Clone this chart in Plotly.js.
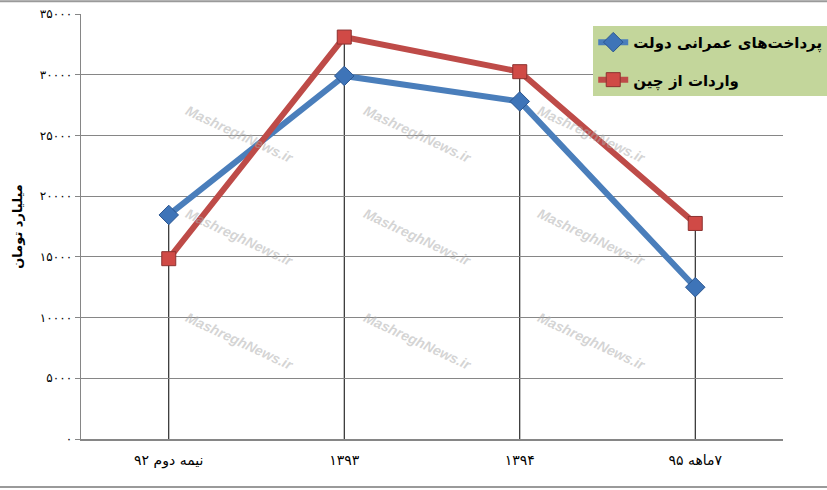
<!DOCTYPE html>
<html>
<head>
<meta charset="utf-8">
<script src="https://cdn.plot.ly/plotly-3.0.1.min.js"></script>
<style>
  html, body { margin: 0; padding: 0; background: #ffffff; }
  #chart { width: 827px; height: 490px; }
</style>
</head>
<body>
<div id="chart"></div>
<script>
// ---- data ----
const categories = ["نیمه دوم ۹۲", "۱۳۹۳", "۱۳۹۴", "\u202B۷ماهه ۹۵\u202C"];
const seriesNames = ["پرداخت‌های عمرانی دولت", "واردات از چین"];
const civilPayments = [18450, 29900, 27800, 12500];
const chinaImports = [14850, 33100, 30250, 17750];
const yTickVals = [0, 5000, 10000, 15000, 20000, 25000, 30000, 35000];
const yTickText = ["۰", "۵۰۰۰", "۱۰۰۰۰", "۱۵۰۰۰", "۲۰۰۰۰", "۲۵۰۰۰", "۳۰۰۰۰", "۳۵۰۰۰"];
const yTitle = "میلیارد تومان";
const watermark = "MashreghNews.ir";

// ---- drop lines from highest point to axis ----
const dropShapes = categories.map((c, i) => ({
  type: "line", xref: "x", yref: "y",
  x0: c, x1: c, y0: 0, y1: Math.max(civilPayments[i], chinaImports[i]),
  line: { color: "#000000", width: 1 }, layer: "below"
}));

// ---- watermarks ----
const wmX = [0.141, 0.479, 0.811];
const wmY = [0.798, 0.475, 0.148];
const wmAnn = [];
wmX.forEach(x => wmY.forEach(y => wmAnn.push({
  text: "<b><i>" + watermark + "</i></b>", xref: "paper", yref: "paper",
  x: x, y: y, showarrow: false, textangle: 25,
  font: { family: "Liberation Sans, Arial, sans-serif", size: 14, color: "rgba(170,170,170,0.5)" }
})));

const traces = [
  {
    type: "scatter", mode: "lines+markers", name: seriesNames[0], legendgroup: "a",
    x: categories, y: civilPayments,
    line: { color: "#4a7ebb", width: 6 },
    marker: { symbol: "diamond", size: 15, color: "#3e74b8", line: { color: "#2a5590", width: 1 } }
  },
  {
    type: "scatter", mode: "lines+markers", name: seriesNames[1], legendgroup: "b",
    x: categories, y: chinaImports,
    line: { color: "#be4b48", width: 6 },
    marker: { symbol: "square", size: 14, color: "#d04a46", line: { color: "#8c3230", width: 1 } }
  }
];

const layout = {
  width: 827, height: 490,
  margin: { l: 81, r: 44, t: 14, b: 51, autoexpand: false },
  paper_bgcolor: "#ffffff", plot_bgcolor: "#ffffff",
  showlegend: true,
  legend: {
    x: 1.063, xanchor: "right", y: 0.972, yanchor: "top",
    bgcolor: "#c3d69b", borderwidth: 0,
    font: { family: "DejaVu Sans, sans-serif", size: 15, color: "#000000", weight: "bold" },
    traceorder: "grouped", tracegroupgap: 15, itemwidth: 30
  },
  xaxis: {
    type: "category", range: [-0.5, 3.5],
    showgrid: false, zeroline: false,
    showline: true, linecolor: "#868686", linewidth: 1.5,
    ticks: "", ticklabelstandoff: 8,
    tickfont: { family: "DejaVu Sans, sans-serif", size: 14, color: "#000000" },
    fixedrange: true
  },
  yaxis: {
    range: [0, 35000], tickvals: yTickVals, ticktext: yTickText,
    showgrid: true, gridcolor: "#868686", gridwidth: 1,
    zeroline: false,
    showline: true, linecolor: "#868686", linewidth: 1.5,
    ticks: "outside", ticklen: 5, tickcolor: "#868686",
    tickfont: { family: "DejaVu Sans, sans-serif", size: 12, color: "#000000" },
    title: { text: yTitle, font: { family: "DejaVu Sans, sans-serif", size: 13, color: "#000000", weight: "bold" }, standoff: 14 },
    fixedrange: true
  },
  shapes: dropShapes.concat([
    { type: "line", xref: "paper", yref: "paper", x0: -0.2, x1: 1.2, y0: 1.03, y1: 1.03,
      line: { color: "#9a9a9a", width: 2 } },
    { type: "line", xref: "paper", yref: "paper", x0: -0.2, x1: 1.2, y0: -0.113, y1: -0.113,
      line: { color: "#9a9a9a", width: 2 } }
  ]),
  annotations: wmAnn
};

Plotly.newPlot("chart", traces, layout, { displayModeBar: false, staticPlot: true });
</script>
</body>
</html>
